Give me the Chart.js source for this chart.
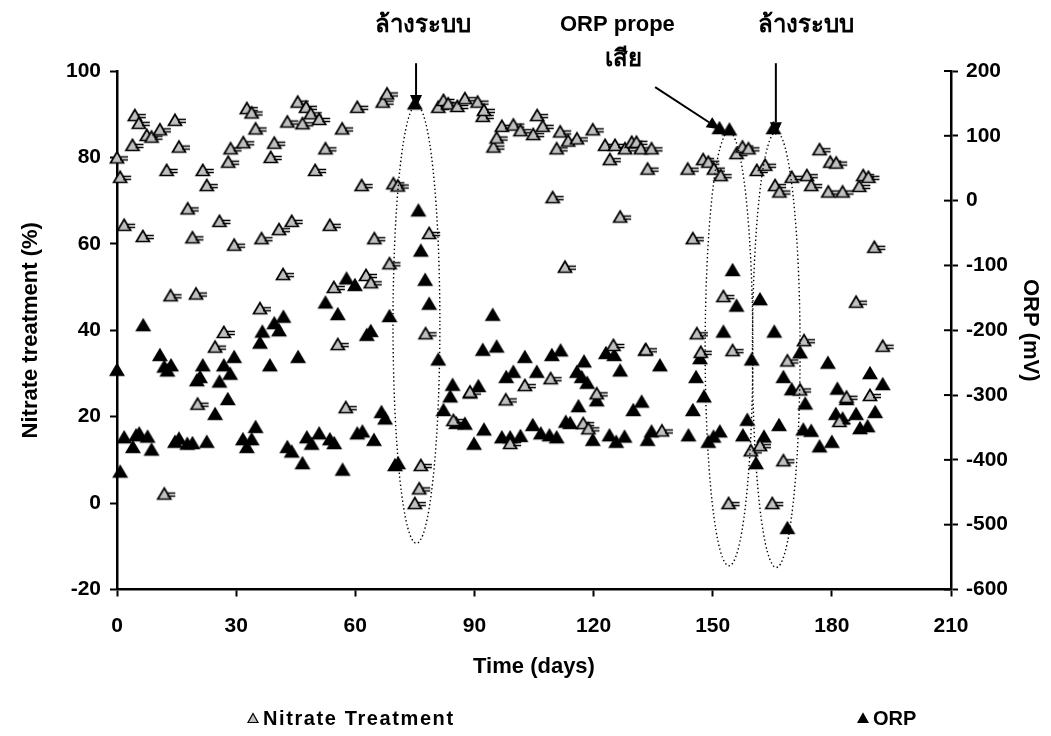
<!DOCTYPE html>
<html>
<head>
<meta charset="utf-8">
<script src="https://cdn.jsdelivr.net/npm/chart.js@4.4.1/dist/chart.umd.min.js"></script>
<style>
  html, body { margin: 0; padding: 0; background: #fff; }
  #chart { display: block; }
</style>
</head>
<body>
<canvas id="chart" width="1051" height="736"></canvas>
<script>
// Nitrate treatment (%) against time (days)
const nitrateDays = [
  0.0, 0.8, 1.8, 3.9, 4.5, 5.5, 6.5, 7.5, 8.7, 10.8, 11.9, 12.5, 13.5, 14.6, 15.6, 17.8,
  19.0, 19.9, 20.3, 21.6, 22.6, 24.7, 25.8, 26.9, 28.0, 28.6, 29.5, 31.8, 32.7, 33.9, 34.9,
  36.0, 36.4, 38.7, 39.6, 40.8, 41.8, 42.9, 44.0, 45.5, 46.7, 47.6, 48.8, 49.9, 50.9, 52.5,
  53.6, 54.6, 55.6, 56.7, 57.6, 60.5, 61.6, 62.7, 63.9, 64.8, 66.9, 68.0, 68.6, 69.6, 70.7,
  75.0, 76.1, 76.5, 77.7, 78.6, 80.9, 82.2, 83.4, 84.7, 85.7, 87.6, 88.9, 90.8, 92.1, 92.4,
  94.8, 95.6, 96.9, 97.9, 99.0, 99.8, 101.6, 102.7, 104.8, 105.8, 107.2, 109.2, 109.7, 110.7,
  111.6, 112.8, 113.6, 115.8, 117.4, 118.7, 119.8, 120.8, 122.9, 124.1, 125.0, 125.4, 126.7,
  127.9, 129.6, 130.8, 131.9, 133.2, 133.6, 134.6, 137.2, 143.7, 145.0, 146.0, 147.0, 147.6,
  148.9, 150.3, 152.0, 152.7, 154.0, 155.0, 156.0, 157.5, 159.0, 159.6, 161.1, 161.9, 163.2,
  165.0, 165.7, 166.8, 167.8, 168.8, 169.9, 172.0, 173.0, 173.7, 174.8, 176.9, 179.1, 179.6,
  181.1, 181.9, 182.7, 183.7, 186.1, 186.9, 187.9, 189.2, 189.6, 190.7, 192.8
];
const nitrateTreatment = [
  80, 75.5, 64.4, 82.9, 89.8, 88, 61.8, 85.2, 84.8, 86.5, 2.2, 77.1, 48.1, 88.7, 82.5, 68.2,
  61.5, 48.5, 23, 77.1, 73.6, 36.2, 65.3, 39.6, 79, 82.1, 59.8, 83.5, 91.4, 90.4, 86.7,
  45.1, 61.3, 80.1, 83.4, 63.4, 53, 88.3, 65.3, 92.9, 87.9, 91.7, 90.2, 77.1, 88.9, 82.1,
  64.4, 50, 36.8, 86.7, 22.2, 91.7, 73.6, 52.8, 51.1, 61.3, 92.9, 94.8, 55.5, 74, 73.5,
  0, 3.4, 8.8, 39.3, 62.5, 91.7, 93.3, 92.5, 19.2, 91.9, 93.7, 25.8, 92.9, 89.6, 91,
  82.5, 84.6, 87.3, 24, 13.9, 87.6, 86.3, 27.3, 85.4, 89.8, 87.3, 28.9, 70.8, 82.1,
  86, 54.7, 83.9, 84.4, 18.5, 17.3, 86.5, 25.4, 82.9, 79.6, 36.6, 82.9, 66.3,
  82.1, 83.6, 83.6, 82.1, 35.6, 77.4, 82.1, 16.8, 77.4, 61.3, 39.3, 35, 79.6,
  79, 77.4, 75.9, 47.9, 0, 35.4, 81, 82.5, 82.1, 12.2, 77.1, 13.4, 78.3,
  0, 73.6, 72.1, 9.9, 33, 75.5, 26.3, 37.7, 75.9, 73.6, 81.9, 72.1, 79,
  78.8, 19, 72.1, 24.6, 46.6, 73.4, 75.9, 75.5, 25, 59.3, 36.4
];

// ORP (mV) against time (days)
const orpDays = [
  0, 0.8, 1.8, 4.0, 4.8, 5.6, 6.6, 7.7, 8.7, 10.8, 11.9, 12.7, 13.6, 14.6, 15.6, 17.7, 19.0,
  20.1, 20.9, 21.6, 22.6, 24.7, 25.8, 26.9, 27.9, 28.5, 29.5, 31.7, 32.7, 33.9, 34.9, 36.0,
  36.6, 38.5, 39.6, 40.8, 41.9, 42.9, 44.0, 45.6, 46.7, 47.8, 49.0, 50.9, 52.5, 53.6, 54.7,
  55.6, 56.8, 57.8, 59.9, 60.5, 61.8, 62.9, 63.9, 64.7, 66.6, 67.5, 68.6, 70.0, 70.8,
  75.0, 75.9, 76.5, 77.6, 78.6, 80.9, 82.2, 83.9, 84.5, 85.4, 87.6, 88.9, 89.9, 91.0, 92.1,
  92.4, 94.6, 95.6, 96.9, 98.0, 99.0, 99.8, 101.6, 102.7, 104.7, 105.7, 106.7, 108.9, 109.5,
  110.7, 111.7, 113.0, 114.1, 115.8, 116.2, 117.0, 117.6, 118.4, 119.8, 120.8, 123.1, 124.0,
  125.2, 125.7, 126.7, 127.8, 130.0, 132.1, 133.0, 133.6, 134.6, 136.7, 143.9, 145.0, 145.8,
  146.8, 147.8, 148.9, 150.2, 151.7, 151.8, 152.7, 154.2, 155.0, 156.0, 157.6, 158.7, 159.8,
  160.9, 161.9, 162.9, 165.3, 165.5, 166.7, 167.8, 168.8, 169.9, 172.0, 172.8, 173.3, 174.8,
  176.9, 179.0, 180.0, 181.0, 181.4, 182.7, 183.7, 186.1, 187.1, 189.0, 189.6, 190.9, 192.8
];
const orpValues = [
  -261, -418, -365, -380, -362, -359, -192, -364, -384, -238, -256, -262, -254, -372, -367, -375, -374,
  -277, -272, -254, -372, -329, -279, -254, -306, -267, -241, -368, -380, -368, -349, -219,
  -202, -254, -189, -200, -179, -380, -387, -241, -405, -365, -375, -359, -157, -368, -374,
  -175, -415, -120, -130, -359, -356, -207, -201, -369, -326, -336, -178, -408, -405,
  150, -15, -77, -122, -159, -245, -323, -302, -284, -343, -344, -296, -375, -286, -230,
  -353, -176, -225, -365, -272, -365, -264, -363, -241, -346, -264, -359, -362, -238,
  -365, -231, -341, -343, -264, -317, -272, -248, -281, -369, -308, -235, -362,
  -238, -372, -262, -364, -323, -310, -230, -369, -356, -254, -362, -323, -272,
  -243, -302, -372, -364, 112, -356, -202, 110, -107, -162, -362, -338, -245,
  -405, -152, -364, 112, -202, -346, -272, -505, -291, -234, -353, -313, -355,
  -379, -250, -372, -329, -290, -336, -306, -329, -351, -348, -266, -326, -283
];

// axis ranges and tick steps
const dayRange = [0, 210], dayStep = 30;
const nitrateRange = [-20, 100], nitrateStep = 20;
const orpRange = [-600, 200], orpStep = 100;

// notes above the plot: arrows and text sit on the ORP scale
const washText = 'ล้างระบบ';
const notes = [
  { text: washText, day: 77, orp: 260 },
  { text: 'ORP prope', day: 126, orp: 262 },
  { text: 'เสีย', day: 127.5, orp: 207 },
  { text: washText, day: 173.5, orp: 260 }
];
const arrows = [
  { fromDay: 75.3, fromOrp: 212, toDay: 75.3, toOrp: 143 },
  { fromDay: 135.5, fromOrp: 175, toDay: 151.8, toOrp: 110 },
  { fromDay: 165.9, fromOrp: 212, toDay: 165.9, toOrp: 101 }
];
// dotted rings around the wash-out periods, on the nitrate scale
const rings = [
  { day: 75.4, halfDays: 5.9, mid: 41.4, half: 50.7 },
  { day: 154.1, halfDays: 6, mid: 35.7, half: 50.2 },
  { day: 166.0, halfDays: 6, mid: 35.5, half: 50.4 }
];

const FONT = "'Liberation Sans', Arial, sans-serif";
const THAI_FONT = "'Liberation Sans', 'DejaVu Sans', 'Noto Sans', sans-serif";
const GREY = '#c0c0c0';

function toPoints(xs, ys) {
  return xs.map((d, i) => ({ x: d, y: ys[i] }));
}

// triangle marker; the nitrate one carries the short error-bar caps
function marker(fill, caps) {
  const c = document.createElement('canvas');
  c.width = 26; c.height = 16;
  const g = c.getContext('2d');
  g.beginPath();
  g.moveTo(13, 2.5); g.lineTo(19.5, 13.5); g.lineTo(6.5, 13.5); g.closePath();
  g.fillStyle = fill;
  g.fill();
  g.lineWidth = 1.7;
  g.lineJoin = 'miter';
  g.strokeStyle = '#000';
  g.stroke();
  if (caps) {
    g.lineWidth = 1.4;
    g.beginPath();
    g.moveTo(15, 7.5); g.lineTo(24, 7.5);
    g.moveTo(16, 10.5); g.lineTo(24, 10.5);
    g.stroke();
  }
  return c;
}

const nitrateMarker = marker(GREY, true);
const orpMarker = marker('#000', false);

function tri(ctx, cx, cy, w, h, fill) {
  ctx.beginPath();
  ctx.moveTo(cx, cy - h / 2);
  ctx.lineTo(cx + w / 2, cy + h / 2);
  ctx.lineTo(cx - w / 2, cy + h / 2);
  ctx.closePath();
  ctx.fillStyle = fill;
  ctx.fill();
  ctx.lineWidth = 1.2;
  ctx.strokeStyle = '#000';
  ctx.stroke();
}

const notesPlugin = {
  id: 'notes',
  afterDatasetsDraw(chart) {
    const { ctx, scales: { x, y, y2 } } = chart;
    ctx.save();

    // inner half of the right-axis ticks
    ctx.strokeStyle = '#000';
    ctx.lineWidth = 2;
    y2.ticks.forEach(t => {
      const py = y2.getPixelForValue(t.value);
      ctx.beginPath();
      ctx.moveTo(x.right - 7, py);
      ctx.lineTo(x.right, py);
      ctx.stroke();
    });

    // dotted rings
    ctx.lineWidth = 1.4;
    ctx.setLineDash([1.4, 2.6]);
    rings.forEach(r => {
      const cx = x.getPixelForValue(r.day);
      const cy = y.getPixelForValue(r.mid);
      const rx = x.getPixelForValue(r.day + r.halfDays) - cx;
      const ry = y.getPixelForValue(r.mid - r.half) - cy;
      ctx.beginPath();
      ctx.ellipse(cx, cy, rx, ry, 0, 0, Math.PI * 2);
      ctx.stroke();
    });
    ctx.setLineDash([]);

    // arrows
    arrows.forEach(a => {
      const x0 = x.getPixelForValue(a.fromDay), y0 = y2.getPixelForValue(a.fromOrp);
      const x1 = x.getPixelForValue(a.toDay), y1 = y2.getPixelForValue(a.toOrp);
      const ang = Math.atan2(y1 - y0, x1 - x0);
      const len = 13, half = 6;
      const bx = x1 - len * Math.cos(ang), by = y1 - len * Math.sin(ang);
      ctx.lineWidth = 2;
      ctx.beginPath();
      ctx.moveTo(x0, y0);
      ctx.lineTo(bx, by);
      ctx.stroke();
      ctx.beginPath();
      ctx.moveTo(x1, y1);
      ctx.lineTo(bx + half * Math.sin(ang), by - half * Math.cos(ang));
      ctx.lineTo(bx - half * Math.sin(ang), by + half * Math.cos(ang));
      ctx.closePath();
      ctx.fillStyle = '#000';
      ctx.fill();
    });

    // note text
    ctx.fillStyle = '#000';
    ctx.textAlign = 'center';
    ctx.textBaseline = 'alphabetic';
    notes.forEach(n => {
      ctx.font = (n.text === 'ORP prope' ? 'bold 22px ' : 'bold 24px ') + THAI_FONT;
      ctx.fillText(n.text, x.getPixelForValue(n.day), y2.getPixelForValue(n.orp));
    });
    ctx.restore();
  },
  afterDraw(chart) {
    // legend row under the axis title
    const { ctx } = chart;
    ctx.save();
    ctx.font = 'bold 20px ' + FONT;
    ctx.textBaseline = 'middle';
    ctx.textAlign = 'left';
    ctx.letterSpacing = '1.6px';
    tri(ctx, 253, 718, 10, 9, GREY);
    ctx.fillStyle = '#000';
    ctx.fillText('Nitrate Treatment', 263, 719);
    ctx.letterSpacing = '0px';
    tri(ctx, 863, 718, 10, 9, '#000');
    ctx.fillStyle = '#000';
    ctx.fillText('ORP', 873, 719);
    ctx.restore();
  }
};

const tickFont = { family: FONT, size: 21, weight: 'bold' };
const titleFont = { family: FONT, size: 22, weight: 'bold' };
const axisGrid = { drawOnChartArea: false, tickLength: 7, tickColor: '#000', tickWidth: 2 };
const axisBorder = { color: '#000', width: 2.5 };

new Chart(document.getElementById('chart'), {
  type: 'scatter',
  data: {
    datasets: [
      {
        label: 'Nitrate Treatment',
        data: toPoints(nitrateDays, nitrateTreatment),
        yAxisID: 'y',
        pointStyle: nitrateMarker,
        clip: false
      },
      {
        label: 'ORP',
        data: toPoints(orpDays, orpValues),
        yAxisID: 'y2',
        pointStyle: orpMarker,
        clip: false
      }
    ]
  },
  options: {
    responsive: false,
    animation: false,
    devicePixelRatio: 1,
    layout: { padding: { top: 71, left: 14, right: 4, bottom: 52 } },
    plugins: {
      legend: { display: false },
      tooltip: { enabled: false }
    },
    scales: {
      x: {
        type: 'linear',
        min: dayRange[0], max: dayRange[1],
        ticks: { stepSize: dayStep, color: '#000', font: tickFont, padding: 17 },
        grid: axisGrid,
        border: axisBorder,
        title: { display: true, text: 'Time (days)', color: '#000', font: titleFont },
        afterFit(s) { s.height = 94.5; }
      },
      y: {
        position: 'left',
        min: nitrateRange[0], max: nitrateRange[1],
        ticks: { stepSize: nitrateStep, color: '#000', font: tickFont, padding: 9 },
        grid: axisGrid,
        border: axisBorder,
        title: { display: true, text: 'Nitrate treatment (%)', color: '#000', font: titleFont },
        afterFit(s) { s.width = 103; }
      },
      y2: {
        position: 'right',
        min: orpRange[0], max: orpRange[1],
        ticks: { stepSize: orpStep, color: '#000', font: tickFont, padding: 8 },
        grid: axisGrid,
        border: axisBorder,
        title: { display: true, text: 'ORP (mV)', color: '#000', font: titleFont },
        afterFit(s) { s.width = 96; }
      }
    }
  },
  plugins: [notesPlugin]
});
</script>
</body>
</html>
